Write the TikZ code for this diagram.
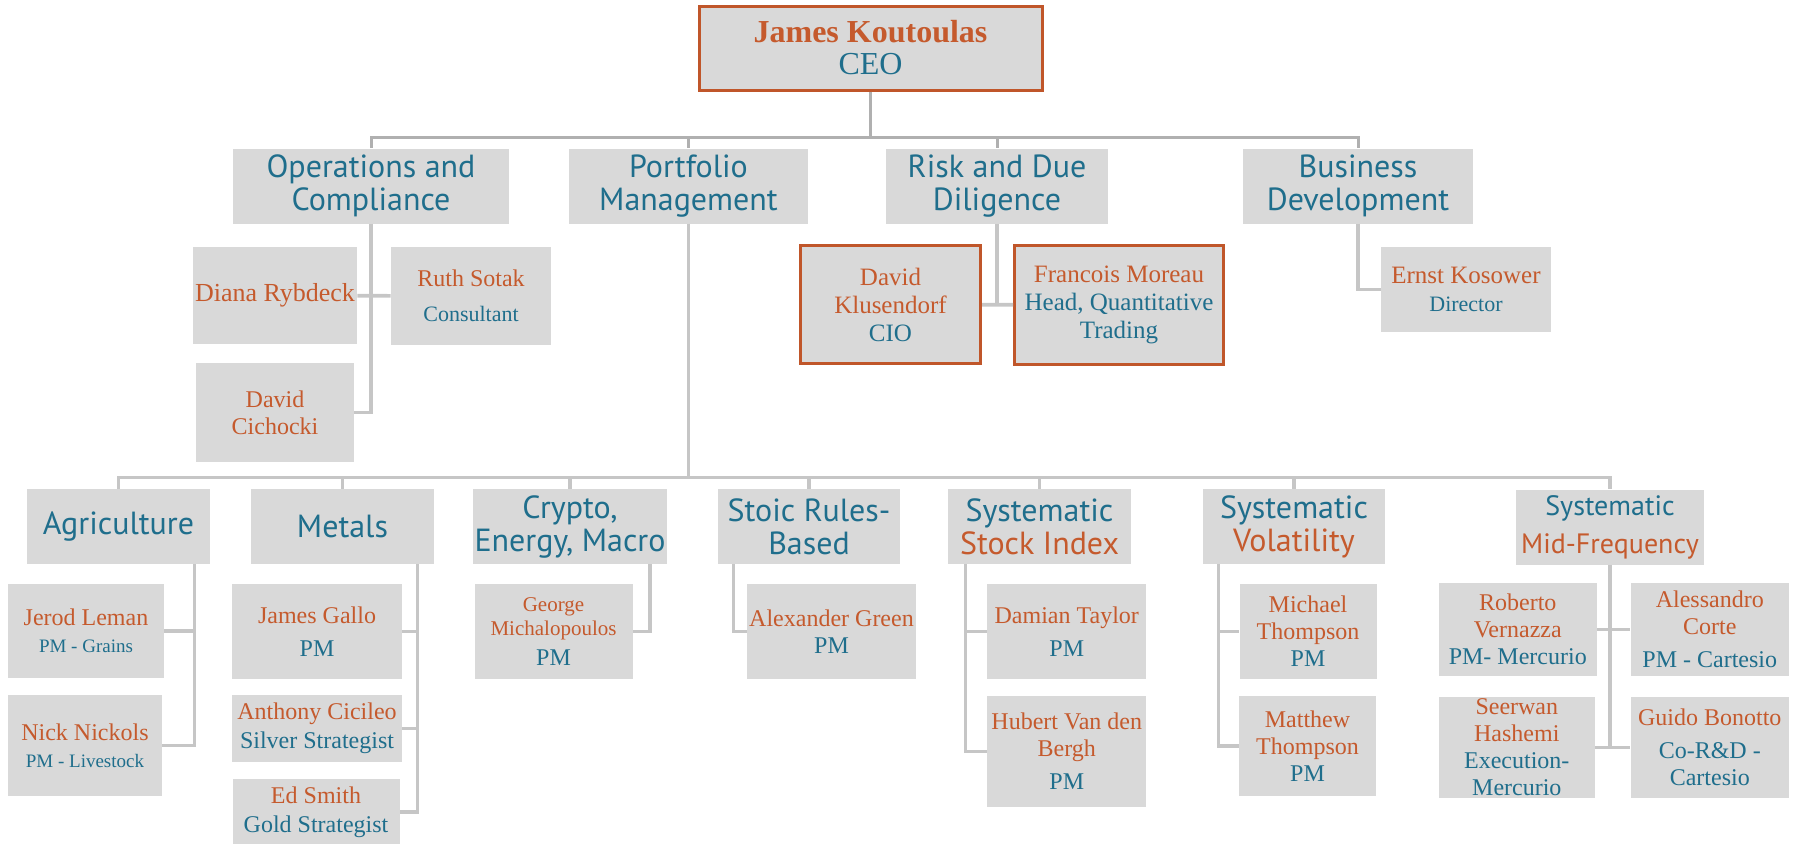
\documentclass[tikz,border=0pt]{standalone}
\usepackage{fontspec}
\setmainfont{Liberation Serif}
\newfontfamily\headfont{PT Sans}
\usepackage{xcolor}
\usetikzlibrary{positioning,calc}

\definecolor{boxgray}{HTML}{D9D9D9}
\definecolor{nameorange}{HTML}{C55A2D}
\definecolor{titleblue}{HTML}{1F6E8C}
\definecolor{leadorange}{HTML}{C0562A}
\definecolor{topgray}{HTML}{B0B0B0}
\definecolor{linkgray}{HTML}{C6C6C6}

\begin{document}
\begin{tikzpicture}[x=0.5pt, y=-0.5pt,
  person/.style={fill=boxgray, text=titleblue, align=center, inner sep=1pt, font=\fontsize{12}{13.5}\selectfont},
  lead/.style={person, draw=leadorange, line width=1.5pt},
  unit/.style={fill=boxgray, text=titleblue, align=center, inner sep=1pt, minimum height=37.5pt, font=\headfont\fontsize{16}{16.5}\selectfont},
  topline/.style={draw=topgray, line width=1.5pt},
  link/.style={draw=linkgray, line width=1.8pt}]

\useasboundingbox (0,0) rectangle (1800,843);

% CEO and first level
\node[lead, minimum width=171.5pt, minimum height=42pt, font=\fontsize{16}{16}\selectfont] (ceo) at (870.5,48)
  {\textbf{\textcolor{nameorange}{James Koutoulas}}\\CEO};
\node[unit, minimum width=138pt] (ops) at (371,186) {Operations and\\Compliance};
\node[unit, minimum width=119.5pt] (port) at (688.5,186) {Portfolio\\Management};
\node[unit, minimum width=111pt] (risk) at (997,186) {Risk and Due\\Diligence};
\node[unit, minimum width=115pt] (bizdev) at (1358,186) {Business\\Development};

\node[person, minimum width=79pt, minimum height=48.5pt, font=\fontsize{13}{14}\selectfont] (diana) at (275,295.5) {\textcolor{nameorange}{Diana Rybdeck}};
\node[person, minimum width=80pt, minimum height=49pt] (ruth) at (471,296)
  {\textcolor{nameorange}{Ruth Sotak}\\[4pt]{\fontsize{11}{12}\selectfont Consultant}};
\node[person, minimum width=79pt, minimum height=49.5pt, text=nameorange] (cichocki) at (275,412.5) {David\\Cichocki};

\node[lead, minimum width=90pt, minimum height=59pt, text=nameorange, font=\fontsize{12.5}{14}\selectfont] (klus) at (890.5,304.5)
  {David\\Klusendorf\\\textcolor{titleblue}{CIO}};
\node[lead, minimum width=104.5pt, minimum height=59.5pt, font=\fontsize{12.5}{14}\selectfont] (francois) at (1119,305)
  {\textcolor{nameorange}{Francois Moreau}\\Head, Quantitative\\Trading};

\node[person, minimum width=85pt, minimum height=42.5pt, font=\fontsize{12.5}{14}\selectfont] (ernst) at (1466,289.5)
  {\textcolor{nameorange}{Ernst Kosower}\\{\fontsize{11}{12}\selectfont Director}};

% trading groups
\node[unit, minimum width=91.5pt] (agri) at (118.5,526.5) {Agriculture};
\node[unit, minimum width=91.5pt] (metals) at (342.5,526.5) {Metals};
\node[unit, minimum width=96pt] (crypto) at (570,526.5) {Crypto,\\Energy, Macro};
\node[unit, minimum width=91pt] (stoic) at (809,526.5) {Stoic Rules-\\Based};
\node[unit, minimum width=91.5pt] (stock) at (1039.5,526.5) {Systematic\\\textcolor{nameorange}{Stock Index}};
\node[unit, minimum width=91pt] (vol) at (1294,526.5) {Systematic\\\textcolor{nameorange}{Volatility}};
\node[unit, minimum width=94pt, font=\headfont\fontsize{14}{15}\selectfont] (mid) at (1610,527)
  {Systematic\\[4pt]\textcolor{nameorange}{Mid-Frequency}};

\node[person, minimum width=78pt, minimum height=47pt] (jerod) at (86,631)
  {\textcolor{nameorange}{Jerod Leman}\\{\fontsize{9.5}{10}\selectfont PM - Grains}};
\node[person, minimum width=77pt, minimum height=50.5pt] (nick) at (85,745.5)
  {\textcolor{nameorange}{Nick Nickols}\\{\fontsize{9.5}{10}\selectfont PM - Livestock}};

\node[person, minimum width=85pt, minimum height=47.5pt] (gallo) at (317,631.5)
  {\textcolor{nameorange}{James Gallo}\\[3pt]PM};
\node[person, minimum width=85pt, minimum height=33.5pt] (cicileo) at (317,728.5)
  {\textcolor{nameorange}{Anthony Cicileo}\\[1pt]Silver Strategist};
\node[person, minimum width=83.5pt, minimum height=33pt] (edsmith) at (316,812)
  {\textcolor{nameorange}{Ed Smith}\\[1pt]Gold Strategist};

\node[person, minimum width=79pt, minimum height=47.5pt, text=nameorange, font=\fontsize{10.5}{12}\selectfont] (george) at (553.5,631.5)
  {George\\Michalopoulos\\[3pt]\textcolor{titleblue}{\fontsize{12}{13}\selectfont PM}};

\node[person, minimum width=79.5pt, minimum height=47.5pt] (alex) at (831.5,631.5)
  {\textcolor{nameorange}{Alexander Green}\\PM};

\node[person, minimum width=79.5pt, minimum height=47.5pt] (damian) at (1066.75,631.5)
  {\textcolor{nameorange}{Damian Taylor}\\[3pt]PM};
\node[person, minimum width=79.5pt, minimum height=55.5pt, text=nameorange] (hubert) at (1066.75,751.5)
  {Hubert Van den\\Bergh\\[3pt]\textcolor{titleblue}{PM}};

\node[person, minimum width=68.5pt, minimum height=47.5pt, text=nameorange] (michael) at (1308,631.5)
  {Michael\\Thompson\\\textcolor{titleblue}{PM}};
\node[person, minimum width=68.5pt, minimum height=50pt, text=nameorange] (matthew) at (1307.5,746)
  {Matthew\\Thompson\\\textcolor{titleblue}{PM}};

\node[person, minimum width=79pt, minimum height=46.5pt, text=nameorange] (roberto) at (1517.75,629.5)
  {Roberto\\Vernazza\\\textcolor{titleblue}{PM- Mercurio}};
\node[person, minimum width=79pt, minimum height=46.5pt, text=nameorange] (alessandro) at (1709.8,629.5)
  {Alessandro\\Corte\\[3pt]\textcolor{titleblue}{PM - Cartesio}};
\node[person, minimum width=78pt, minimum height=50.5pt, text=nameorange] (seerwan) at (1516.8,747.5)
  {Seerwan\\Hashemi\\\textcolor{titleblue}{Execution-}\\\textcolor{titleblue}{Mercurio}};
\node[person, minimum width=79pt, minimum height=50.5pt] (guido) at (1709.8,747.5)
  {\textcolor{nameorange}{Guido Bonotto}\\[3pt]Co-R\&D -\\Cartesio};

% connectors
\coordinate (tbar) at (870.5,137);
\draw[topline] (ceo) -- (tbar);
\foreach \n in {ops,port,risk,bizdev}
  \draw[topline] (tbar) -| (\n);

\draw[link] (ops) |- (cichocki);
\draw[link] (diana) -- (ruth);
\draw[link] (risk) -- (risk |- klus);
\draw[link] (klus) -- (francois);
\draw[link] (bizdev) |- (ernst);

\coordinate (pbar) at (688.5,477.5);
\draw[link] (port) -- (pbar);
\foreach \n in {agri,metals,crypto,stoic,stock,vol,mid}
  \draw[link] (pbar) -| (\n);

\coordinate (agriv) at ([xshift=-8pt]agri.south east);
\draw[link] (agriv) |- (nick);
\draw[link] (agriv |- jerod) -- (jerod);

\coordinate (metv) at ([xshift=-8.5pt]metals.south east);
\draw[link] (metv) |- (edsmith);
\foreach \n in {gallo,cicileo}
  \draw[link] (metv |- \n) -- (\n);

\coordinate (cryv) at ([xshift=-9pt]crypto.south east);
\draw[link] (cryv) |- (george);

\coordinate (stov) at ([xshift=8pt]stoic.south west);
\draw[link] (stov) |- (alex);

\coordinate (stkv) at ([xshift=9pt]stock.south west);
\draw[link] (stkv) |- (hubert);
\draw[link] (stkv |- damian) -- (damian);

\coordinate (volv) at ([xshift=8pt]vol.south west);
\draw[link] (volv) |- (matthew);
\draw[link] (volv |- michael) -- (michael);

\draw[link] (mid) -- (mid |- seerwan);
\draw[link] (roberto) -- (alessandro);
\draw[link] (seerwan) -- (guido);
\end{tikzpicture}
\end{document}
